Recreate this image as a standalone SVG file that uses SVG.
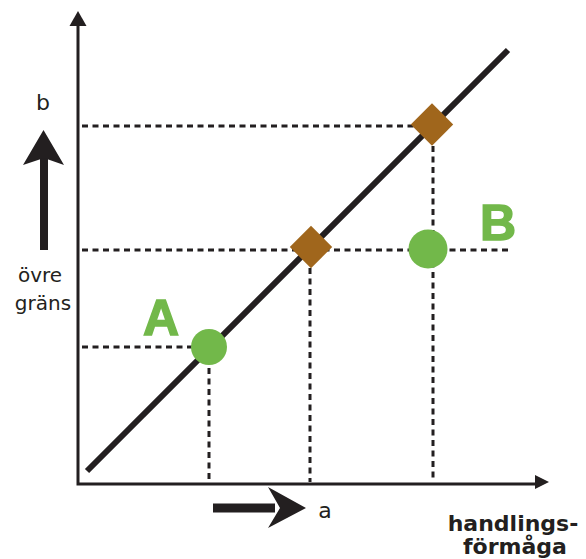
<svg xmlns="http://www.w3.org/2000/svg" width="586" height="559" viewBox="0 0 586 559">
<style>
.axis{stroke:#231f20;stroke-width:3;fill:none}
.dash{stroke:#231f20;stroke-width:3;stroke-dasharray:6 4.5;fill:none}
.main{stroke:#231f20;stroke-width:6;fill:none}
.blk{fill:#231f20}
.lbl{font-family:"DejaVu Sans",sans-serif;fill:#231f20}
.big{font-family:"Liberation Sans",Arial,sans-serif;font-weight:bold;font-size:50px;fill:#72b84a;stroke:#72b84a;stroke-width:1.5}
.grn{fill:#72b84a}
.brn{fill:#a0661c}
</style>
<rect width="586" height="559" fill="#fff"/>
<g id="connectors">
<path class="dash" d="M82 126H432"/>
<path class="dash" d="M82 250H512"/>
<path class="dash" d="M82 347H209"/>
<path class="dash" d="M209 347V482"/>
<path class="dash" d="M310 247V482"/>
<path class="dash" d="M433 125V482"/>
<path class="axis" d="M78 22V484H540"/>
<polygon class="blk" points="78,11 69.5,26 86.5,26"/>
<polygon class="blk" points="549,482 535,475 535,489"/>
<path class="main" d="M87 471L508 50"/>
</g>
<g id="arrow-up">
<rect class="blk" x="40" y="155" width="8" height="95"/>
<polygon class="blk" points="43.5,130 64,165 44,158 23,165"/>
</g>
<g id="arrow-right">
<rect class="blk" x="213" y="503.5" width="62" height="9"/>
<polygon class="blk" points="306,508 268,487 280,508 268,528"/>
</g>
<g id="diamond-1"><rect class="brn" x="296" y="232" width="30" height="30" transform="rotate(45 311 247)"/></g>
<g id="diamond-2"><rect class="brn" x="417" y="109.5" width="30" height="30" transform="rotate(45 432 124.5)"/></g>
<g id="point-A"><circle class="grn" cx="209" cy="347" r="18"/><text class="big" x="161" y="335" text-anchor="middle">A</text></g>
<g id="point-B"><circle class="grn" cx="428" cy="249" r="19.5"/><text class="big" x="498" y="240" text-anchor="middle">B</text></g>
<g id="labels">
<text class="lbl" x="43" y="110" font-size="22" text-anchor="middle">b</text>
<text class="lbl" x="40" y="282" font-size="20" text-anchor="middle">övre</text>
<text class="lbl" x="43" y="310" font-size="20" text-anchor="middle">gräns</text>
<text class="lbl" x="325" y="518" font-size="22" text-anchor="middle">a</text>
<text class="lbl" x="513" y="531" font-size="22" font-weight="bold" text-anchor="middle">handlings-</text>
<text class="lbl" x="515" y="554" font-size="22" font-weight="bold" text-anchor="middle">förmåga</text>
</g>
</svg>
